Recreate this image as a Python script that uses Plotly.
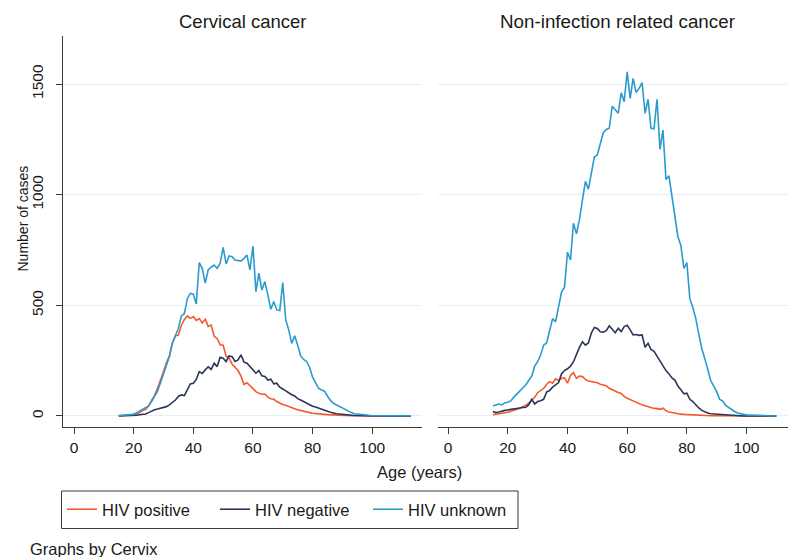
import plotly.graph_objects as go

W, H = 788, 557

# ---------------- data ----------------
ages_cerv = list(range(15, 114))   # 15..113
ages_nonh = list(range(15, 111))   # 15..110

cerv_pos = [1, 1, 2, 3, 5, 7, 9, 15, 25, 30, 45, 70, 92, 125, 160, 200, 240, 272, 330, 362,
            365, 410, 435, 452, 441, 449, 432, 440, 420, 437, 405, 411, 360, 350, 322, 320, 270, 262, 235, 222,
            205, 180, 142, 150, 135, 125, 110, 102, 98, 99, 85, 78, 75, 65, 57, 52, 48, 42, 38, 33,
            28, 24, 20, 17, 15, 12, 10, 9, 8, 7, 6, 5, 4, 3, 3, 2, 2, 1, 1, 1,
            1, 1, 0, 0, 0, 0, 0, 0, 0, 0, 0, 0, 0, 0, 0, 0, 0, 0, 0]

cerv_neg = [0, 0, 1, 1, 1, 2, 3, 5, 7, 9, 15, 23, 28, 31, 35, 38, 42, 50, 60, 72,
            88, 95, 92, 118, 145, 148, 165, 200, 192, 208, 222, 210, 238, 223, 265, 261, 246, 271, 268, 246,
            253, 276, 243, 238, 222, 210, 193, 205, 181, 178, 162, 166, 145, 148, 130, 122, 112, 104, 96, 90,
            78, 72, 64, 56, 50, 44, 40, 35, 28, 24, 21, 17, 12, 10, 9, 7, 5, 4, 3, 2,
            2, 1, 1, 1, 0, 0, 0, 0, 0, 0, 0, 0, 0, 0, 0, 0, 0, 0, 0]

cerv_unk = [2, 3, 3, 4, 5, 7, 15, 22, 30, 38, 45, 65, 92, 112, 150, 193, 235, 270, 330, 365,
            396, 452, 462, 530, 554, 550, 506, 693, 667, 600, 660, 672, 682, 667, 690, 762, 687, 723, 720, 705,
            702, 700, 712, 727, 660, 768, 562, 645, 569, 607, 547, 482, 517, 479, 476, 603, 434, 389, 328, 362,
            321, 271, 255, 246, 220, 175, 150, 125, 117, 112, 90, 70, 57, 50, 42, 35, 28, 20, 15, 10,
            8, 6, 5, 4, 3, 2, 2, 1, 1, 1, 1, 1, 1, 1, 1, 1, 1, 1, 1]

nonh_pos = [5, 7, 9, 11, 14, 17, 21, 25, 30, 35, 42, 48, 58, 70, 84, 105, 116, 125, 142, 155,
            148, 168, 160, 170, 172, 148, 183, 196, 170, 180, 178, 165, 158, 155, 153, 150, 143, 138, 136, 125,
            118, 112, 106, 102, 88, 80, 74, 68, 60, 55, 50, 46, 41, 37, 34, 33, 30, 35, 24, 18,
            15, 12, 10, 8, 7, 6, 6, 5, 4, 3, 3, 2, 2, 1, 1, 1,
            0, 0, 0, 0, 0, 0, 0, 0, 0, 0, 0, 0, 0, 0, 0, 0, 0, 0, 0, 0]

nonh_neg = [20, 15, 18, 23, 25, 27, 30, 33, 35, 36, 38, 39, 50, 75, 54, 65, 69, 75, 108, 115,
            130, 142, 151, 190, 205, 213, 225, 245, 280, 310, 335, 320, 330, 375, 400, 395, 380, 378, 385, 407,
            392, 376, 396, 381, 404, 410, 389, 366, 368, 364, 366, 310, 328, 300, 292, 270, 250, 230, 205, 190,
            172, 162, 135, 118, 100, 103, 75, 65, 48, 36, 25, 18, 13, 10, 9, 7, 5, 4, 3, 2,
            2, 1, 1, 0, 0, 0, 0, 0, 0, 0, 0, 0, 0, 0, 0, 0]

nonh_unk = [45, 50, 54, 50, 60, 62, 68, 85, 98, 112, 125, 140, 160, 180, 225, 245, 275, 320, 330, 385,
            440, 425, 490, 560, 582, 740, 705, 871, 823, 886, 975, 1060, 1025, 1090, 1170, 1180, 1230, 1280, 1295, 1300,
            1400, 1385, 1368, 1460, 1420, 1555, 1435, 1525, 1462, 1480, 1506, 1368, 1431, 1300, 1298, 1431, 1205, 1292, 1069, 1085,
            991, 900, 810, 770, 667, 693, 530, 490, 440, 370, 305, 260, 210, 160, 135, 110, 75, 68, 48, 38,
            28, 20, 13, 9, 7, 5, 5, 5, 3, 3, 2, 2, 1, 1, 0, 0]

series_names = ["HIV positive", "HIV negative", "HIV unknown"]
series_colors = ["#F4582C", "#2B355A", "#2A9BCF"]
panel_titles = ["Cervical cancer", "Non-infection related cancer"]
x_ticks = [0, 20, 40, 60, 80, 100]
y_ticks = [0, 500, 1000, 1500]

FONT = "Liberation Sans, Arial, Helvetica, sans-serif"
TXT = "#1a1a1a"

fig = go.Figure()

for vals, name, col in zip([cerv_pos, cerv_neg, cerv_unk], series_names, series_colors):
    fig.add_trace(go.Scatter(x=ages_cerv, y=vals, mode="lines", name=name,
                             line=dict(color=col, width=1.6), xaxis="x", yaxis="y",
                             showlegend=True))
for vals, name, col in zip([nonh_pos, nonh_neg, nonh_unk], series_names, series_colors):
    fig.add_trace(go.Scatter(x=ages_nonh, y=vals, mode="lines", name=name,
                             line=dict(color=col, width=1.6), xaxis="x2", yaxis="y2",
                             showlegend=False))

def px_x(p):
    return p / W

def px_y(p):
    return 1 - p / H

ydom = [px_y(427), px_y(36)]
yrange = [-50, 1717]
grid = "#E6EFF2"
axcol = "#3a3a3a"

common_x = dict(tickmode="array", tickvals=x_ticks, ticks="outside", ticklen=6, tickwidth=1,
                tickcolor=axcol, showline=True, linecolor=axcol, linewidth=1, showgrid=False,
                zeroline=False, tickfont=dict(family=FONT, size=15.5, color=TXT))

fig.update_layout(
    width=W, height=H,
    margin=dict(l=0, r=0, t=0, b=0),
    paper_bgcolor="white", plot_bgcolor="white",
    font=dict(family=FONT, color=TXT),
    xaxis=dict(domain=[px_x(63), px_x(422)], range=[-3.7, 116.7], anchor="y", **common_x),
    xaxis2=dict(domain=[px_x(438), 1.0], range=[-3.4, 113.9], anchor="y2", **common_x),
    yaxis=dict(domain=ydom, range=yrange, anchor="x", tickmode="array", tickvals=y_ticks,
               tickangle=-90, ticks="outside", ticklen=6, tickwidth=1, tickcolor=axcol,
               ticklabelstandoff=7,
               showline=True, linecolor=axcol, linewidth=1, showgrid=True, gridcolor=grid,
               gridwidth=1, zeroline=False, tickfont=dict(family=FONT, size=15.5, color=TXT)),
    yaxis2=dict(domain=ydom, range=yrange, anchor="x2", tickmode="array", tickvals=y_ticks,
                showticklabels=False, ticks="", showline=False, showgrid=True, gridcolor=grid,
                gridwidth=1, zeroline=False),
    legend=dict(orientation="h", x=px_x(62), y=px_y(492), xanchor="left", yanchor="top",
                bgcolor="rgba(0,0,0,0)", borderwidth=0, entrywidth=108,
                font=dict(family=FONT, size=16.5, color=TXT)),
    shapes=[dict(type="rect", xref="paper", yref="paper", x0=px_x(61.5), x1=px_x(518),
                 y0=px_y(528.5), y1=px_y(491), line=dict(color=axcol, width=1),
                 fillcolor="rgba(0,0,0,0)")],
    showlegend=True,
)

annotations = [
    dict(text=panel_titles[0], x=px_x(242.5), y=px_y(22), xref="paper", yref="paper",
         showarrow=False, xanchor="center", yanchor="middle", font=dict(size=18.5, family=FONT, color=TXT)),
    dict(text=panel_titles[1], x=px_x(617), y=px_y(22), xref="paper", yref="paper",
         showarrow=False, xanchor="center", yanchor="middle", font=dict(size=18.8, family=FONT, color=TXT)),
    dict(text="Age (years)", x=px_x(419.5), y=px_y(472), xref="paper", yref="paper",
         showarrow=False, xanchor="center", yanchor="middle", font=dict(size=16.5, family=FONT, color=TXT)),
    dict(text="Number of cases", x=px_x(22), y=px_y(218.5), xref="paper", yref="paper",
         showarrow=False, xanchor="center", yanchor="middle", textangle=-90,
         font=dict(size=14, family=FONT, color=TXT)),
    dict(text="Graphs by Cervix", x=px_x(27.5), y=px_y(549), xref="paper", yref="paper",
         showarrow=False, xanchor="left", yanchor="middle", font=dict(size=16.5, family=FONT, color=TXT)),
]
fig.update_layout(annotations=annotations)

fig.write_html("out.html", config={"displayModeBar": False},
               post_script="document.body.style.margin='0';document.body.style.padding='0';")
